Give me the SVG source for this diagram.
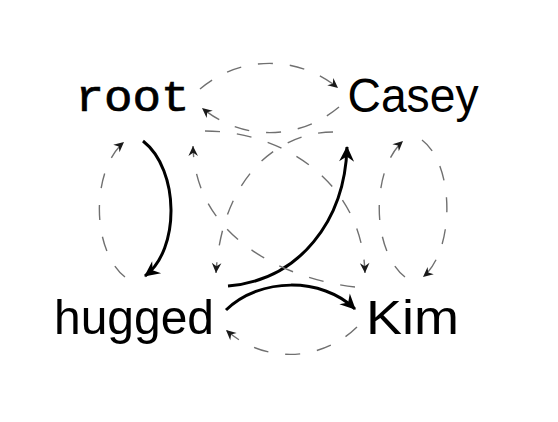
<svg xmlns="http://www.w3.org/2000/svg" width="558" height="422" viewBox="0 0 558 422">
<style>
.lbl{font-family:"Liberation Sans",Arial,sans-serif;font-size:49px;fill:#000}
.mono{font-family:"Liberation Mono","Courier New",monospace;font-size:45px;fill:#000;stroke:#000;stroke-width:0.7}
.solid{fill:none;stroke:#000;stroke-width:3;marker-end:url(#hs)}
.dash{fill:none;stroke:#707070;stroke-width:1.4;stroke-dasharray:15 17;marker-end:url(#hd)}
</style>
<defs>
<marker id="hs" markerUnits="userSpaceOnUse" viewBox="-17 -9 19 18" refX="-1" refY="0" markerWidth="19" markerHeight="18" orient="auto"><path d="M0,0 L-15.5,-7.5 L-10.5,0 L-15.5,7.5 z" fill="#000"/></marker>
<marker id="hd" markerUnits="userSpaceOnUse" viewBox="-11 -6 12 12" refX="0" refY="0" markerWidth="12" markerHeight="12" orient="auto"><path d="M0,0 L-10,-4.8 L-6.8,0 L-10,4.8 z" fill="#1a1a1a"/></marker>
</defs>
<rect width="558" height="422" fill="#fff"/>
<g id="edges">
<path class="solid" d="M143,141 C180,170 180,250 145,276"/>
<path class="solid" d="M228,286 C300,280 345,220 347,147"/>
<path class="solid" d="M226,310 C260,277 322,277 355,309"/>
<path class="dash" d="M200,89 C240,55 298,55 338,88"/>
<path class="dash" d="M339,107 C298,141 242,141 202,108"/>
<path class="dash" d="M125,277 C91,250 91,170 124,142"/>
<path class="dash" d="M422,140 C455,165 455,250 423,277"/>
<path class="dash" d="M405,277 C371,250 371,170 403,141"/>
<path class="dash" d="M357,327 C320,363 263,363 226,330"/>
<path class="dash" d="M205,131 C280,131 362,180 365,273"/>
<path class="dash" d="M333,132 C280,132 222,175 216,273"/>
<path class="dash" d="M355,287 C290,280 195,240 193,146"/>
</g>
<g id="node-root"><text class="mono" x="132.5" y="111" text-anchor="middle" textLength="114" lengthAdjust="spacingAndGlyphs">root</text></g>
<g id="node-Casey"><text class="lbl" x="413" y="112" text-anchor="middle" textLength="131" lengthAdjust="spacingAndGlyphs">Casey</text></g>
<g id="node-hugged"><text class="lbl" x="134" y="334" text-anchor="middle" textLength="160" lengthAdjust="spacingAndGlyphs">hugged</text></g>
<g id="node-Kim"><text class="lbl" x="412.5" y="334" text-anchor="middle" textLength="93" lengthAdjust="spacingAndGlyphs">Kim</text></g>
</svg>
